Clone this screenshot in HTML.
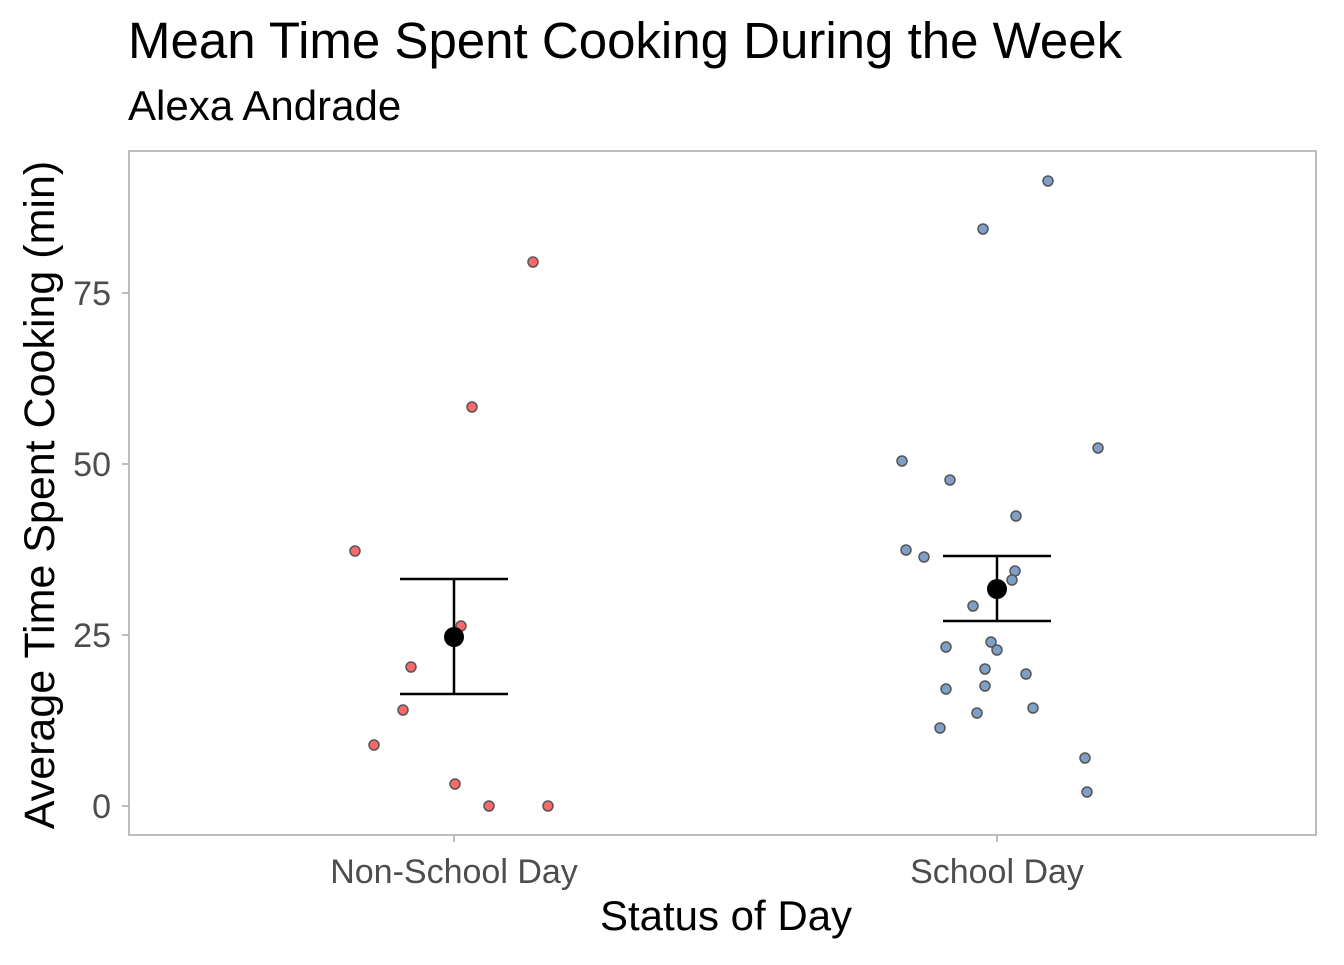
<!DOCTYPE html>
<html><head><meta charset="utf-8"><style>body{margin:0;background:#fff}</style></head><body>
<svg width="1344" height="960" xmlns="http://www.w3.org/2000/svg" font-family="Liberation Sans, Arial, sans-serif">
<rect width="1344" height="960" fill="#fff"/>
<text x="128" y="58" font-size="51" fill="#000">Mean Time Spent Cooking During the Week</text>
<text x="128" y="120" font-size="42" fill="#000">Alexa Andrade</text>
<rect x="129" y="151" width="1187" height="684" fill="none" stroke="#a8a8a8" stroke-width="1.5"/>
<g stroke="#a8a8a8" stroke-width="1.5">
<line x1="122" y1="806" x2="129" y2="806"/><line x1="122" y1="635" x2="129" y2="635"/>
<line x1="122" y1="464" x2="129" y2="464"/><line x1="122" y1="293" x2="129" y2="293"/>
<line x1="454" y1="835" x2="454" y2="842"/><line x1="997" y1="835" x2="997" y2="842"/>
</g>
<g font-size="34" fill="#4d4d4d" text-anchor="end">
<text x="111" y="818">0</text><text x="111" y="647">25</text><text x="111" y="476">50</text><text x="111" y="305">75</text>
</g>
<g font-size="34" fill="#4d4d4d" text-anchor="middle">
<text x="454" y="883">Non-School Day</text><text x="997" y="883">School Day</text>
</g>
<text x="726" y="930" font-size="42" text-anchor="middle">Status of Day</text>
<text transform="translate(54,495) rotate(-90)" font-size="43" text-anchor="middle">Average Time Spent Cooking (min)</text>
<g fill="#f8696b" stroke="#555" stroke-width="1.5">
<circle cx="355" cy="551" r="5"/><circle cx="533" cy="262" r="5"/><circle cx="472" cy="407" r="5"/>
<circle cx="461" cy="626" r="5"/><circle cx="411" cy="667" r="5"/><circle cx="403" cy="710" r="5"/>
<circle cx="374" cy="745" r="5"/><circle cx="455" cy="784" r="5"/><circle cx="489" cy="806" r="5"/><circle cx="548" cy="806" r="5"/>
</g>
<g fill="#7fa0c6" stroke="#555" stroke-width="1.5">
<circle cx="1048" cy="181" r="5"/><circle cx="983" cy="229" r="5"/><circle cx="1098" cy="448" r="5"/>
<circle cx="902" cy="461" r="5"/><circle cx="950" cy="480" r="5"/><circle cx="1016" cy="516" r="5"/>
<circle cx="906" cy="550" r="5"/><circle cx="924" cy="557" r="5"/><circle cx="1015" cy="571" r="5"/>
<circle cx="1012" cy="580" r="5"/><circle cx="973" cy="606" r="5"/><circle cx="991" cy="642" r="5"/>
<circle cx="946" cy="647" r="5"/><circle cx="997" cy="650" r="5"/><circle cx="985" cy="669" r="5"/>
<circle cx="1026" cy="674" r="5"/><circle cx="946" cy="689" r="5"/><circle cx="985" cy="686" r="5"/>
<circle cx="1033" cy="708" r="5"/><circle cx="977" cy="713" r="5"/><circle cx="940" cy="728" r="5"/>
<circle cx="1085" cy="758" r="5"/><circle cx="1087" cy="792" r="5"/>
</g>
<g stroke="#000" stroke-width="2.5">
<line x1="400" y1="579" x2="508" y2="579"/><line x1="400" y1="694" x2="508" y2="694"/><line x1="454" y1="579" x2="454" y2="694"/>
<line x1="943" y1="556" x2="1051" y2="556"/><line x1="943" y1="621" x2="1051" y2="621"/><line x1="997" y1="556" x2="997" y2="621"/>
</g>
<circle cx="454" cy="637" r="10" fill="#000"/>
<circle cx="997" cy="589" r="10" fill="#000"/>
</svg>
</body></html>
